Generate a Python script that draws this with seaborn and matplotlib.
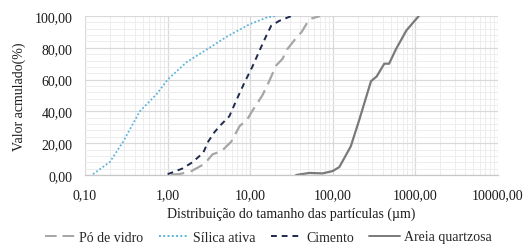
import numpy as np
import pandas as pd
import matplotlib
matplotlib.use("Agg")
import matplotlib.pyplot as plt
from matplotlib.ticker import FixedLocator, MultipleLocator, LogLocator, NullFormatter
import seaborn as sns

# Data (particle size in µm, cumulative %)
po_d = [1.1, 1.4, 1.95, 2.8, 3.5, 4.5, 5.9, 7.5, 9.0, 10.5, 14, 16, 18, 20.7, 24.6, 28, 34.5, 42, 52, 70]
po_v = [0.3, 0.6, 2.5, 7, 13, 15, 21, 31, 34, 40, 50, 56, 62, 69, 73, 79, 85, 90, 98, 100]

sil_d = [0.125, 0.2, 0.29, 0.46, 0.74, 1.0, 1.7, 3.0, 5.2, 10, 15.8, 20]
sil_v = [0.5, 8.2, 21, 40, 51, 60, 71, 79, 87, 95, 99, 100]

cim_d = [1.0, 1.5, 2.0, 2.7, 3.1, 3.7, 4.5, 5.6, 6.8, 8.5, 10.6, 13.7, 15.8, 18, 22.6, 31.6]
cim_v = [0.5, 4, 8, 14, 21, 27, 32, 37, 47, 58, 68, 81, 88, 94, 97, 100]

are_d = [36, 52, 75, 100, 120, 165, 210, 290, 340, 420, 480, 580, 780, 1100]
are_v = [0, 1.3, 1, 2.5, 5, 18, 35, 59, 62, 70, 70, 79, 91, 100]

series = ["Pó de vidro", "Sílica ativa", "Cimento", "Areia quartzosa"]
xticks = [0.1, 1, 10, 100, 1000, 10000]
xtick_labels = ["0,10", "1,00", "10,00", "100,00", "1000,00", "10000,00"]
yticks = [0, 20, 40, 60, 80, 100]
ytick_labels = ["0,00", "20,00", "40,00", "60,00", "80,00", "100,00"]

df = pd.concat([
    pd.DataFrame({"d": po_d, "v": po_v, "s": series[0]}),
    pd.DataFrame({"d": sil_d, "v": sil_v, "s": series[1]}),
    pd.DataFrame({"d": cim_d, "v": cim_v, "s": series[2]}),
    pd.DataFrame({"d": are_d, "v": are_v, "s": series[3]}),
])

sns.set_theme(style="white")
plt.rcParams["font.family"] = ["Liberation Serif", "DejaVu Serif"]

fig = plt.figure(figsize=(5.30, 2.51), dpi=100)
ax = fig.add_axes([85/530, 1 - 176/251, (498-85)/530, (176-17)/251])

palette = {series[0]: "#A6A6A6", series[1]: "#5BB4DE",
           series[2]: "#1F2A4E", series[3]: "#7A7A7A"}
dashes = {series[0]: (6, 3), series[1]: (1, 1.2),
          series[2]: (3, 2.5), series[3]: ""}
widths = {series[0]: 1.6, series[1]: 1.3, series[2]: 1.4, series[3]: 1.6}

for s in series:
    sub = df[df["s"] == s]
    sns.lineplot(data=sub, x="d", y="v", ax=ax, color=palette[s],
                 linewidth=widths[s], sort=False, label=s,
                 dashes=False, estimator=None)
    ln = ax.lines[-1]
    if dashes[s]:
        ln.set_dashes(dashes[s])

ax.set_xscale("log")
ax.set_xlim(0.1, 10000)
ax.set_ylim(0, 100)
ax.xaxis.set_major_locator(FixedLocator(xticks))
ax.set_xticklabels(xtick_labels)
ax.xaxis.set_minor_locator(LogLocator(base=10, subs=np.arange(2, 10)))
ax.xaxis.set_minor_formatter(NullFormatter())
ax.yaxis.set_major_locator(FixedLocator(yticks))
ax.set_yticklabels(ytick_labels)
ax.yaxis.set_minor_locator(MultipleLocator(4))

ax.grid(which="major", color="#D9D9D9", linewidth=0.9)
ax.grid(which="minor", color="#EDEDED", linewidth=0.7)
ax.set_axisbelow(True)
for sp in ["top", "right", "left"]:
    ax.spines[sp].set_visible(False)
ax.spines["bottom"].set_color("#C8C8C8")
ax.spines["bottom"].set_linewidth(0.9)
ax.tick_params(axis="both", which="both", length=0, labelsize=10, colors="#1a1a1a")
ax.tick_params(axis="x", pad=9.5)
ax.tick_params(axis="y", pad=9)

ax.set_xlabel("Distribuição do tamanho das partículas (µm)", fontsize=10, labelpad=4, color="#1a1a1a")
ax.set_ylabel("Valor acmulado(%)", fontsize=10, labelpad=6, color="#1a1a1a")

leg = ax.legend(loc="center", bbox_to_anchor=(268/530, 1 - 238/251),
                bbox_transform=fig.transFigure, ncol=4,
                frameon=False, fontsize=10, handlelength=2.2, columnspacing=1.1,
                handletextpad=0.3, borderpad=0.2)
for lh in leg.get_lines():
    lh.set_linewidth(1.4)

fig.savefig("out.png", dpi=100)
